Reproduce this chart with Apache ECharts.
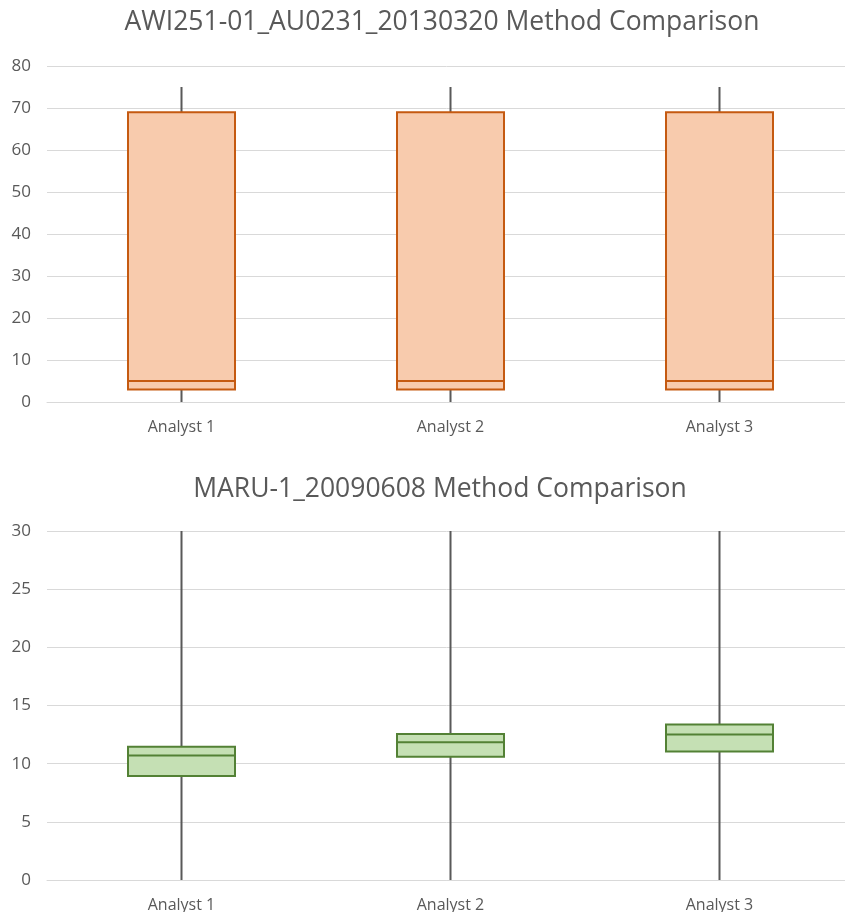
<!DOCTYPE html>
<html><head><meta charset="utf-8">
<script src="https://cdn.jsdelivr.net/npm/echarts@6/dist/echarts.min.js"></script>
<style>html,body{margin:0;padding:0;background:#fff}#c{width:845px;height:912px}</style>
</head><body><div id="c"></div>
<script>
const categories = ['Analyst 1', 'Analyst 2', 'Analyst 3'];
const title1 = 'AWI251-01_AU0231_20130320 Method Comparison';
const title2 = 'MARU-1_20090608 Method Comparison';
// [min, q1, median, q3, max]
const chart1Stats = [
  [0, 3, 5, 69, 75],
  [0, 3, 5, 69, 75],
  [0, 3, 5, 69, 75]
];
const chart2Stats = [
  [0, 8.93, 10.7, 11.45, 30],
  [0, 10.6, 11.85, 12.56, 30],
  [0, 11.05, 12.5, 13.37, 30]
];
const yTicks1 = [0, 80, 10];
const yTicks2 = [0, 30, 5];

const FONT = 'Open Sans';
const TXT = '#595959';
const GRIDC = '#D9D9D9';

function whiskerSeries(stats, idx) {
  return {
    type: 'custom', xAxisIndex: idx, yAxisIndex: idx, z: 1, silent: true,
    data: stats.map((s, i) => [i, s[0], s[4]]),
    renderItem: function (params, api) {
      const a = api.coord([api.value(0), api.value(1)]);
      const b = api.coord([api.value(0), api.value(2)]);
      return { type: 'line', shape: { x1: a[0], y1: a[1], x2: b[0], y2: b[1] },
        style: { stroke: '#595959', lineWidth: 2 } };
    }
  };
}
function boxSeries(stats, idx, fill, border) {
  return {
    type: 'boxplot', xAxisIndex: idx, yAxisIndex: idx, z: 2, silent: true,
    boxWidth: [107, 107],
    data: stats.map(s => [s[1], s[1], s[2], s[3], s[3]]),
    itemStyle: { color: fill, borderColor: border, borderWidth: 2 }
  };
}
function xAx(idx) {
  return { type: 'category', gridIndex: idx, data: categories,
    axisLine: { show: true, lineStyle: { color: GRIDC, width: 1 } },
    axisTick: { show: false },
    axisLabel: { color: TXT, fontFamily: FONT, fontSize: 16, margin: 17 } };
}
function yAx(idx, t) {
  return { type: 'value', gridIndex: idx, min: t[0], max: t[1], interval: t[2],
    axisLine: { show: false }, axisTick: { show: false },
    splitLine: { lineStyle: { color: GRIDC, width: 1 } },
    axisLabel: { color: TXT, fontFamily: FONT, fontSize: 17, margin: 16 } };
}
const chart = echarts.init(document.getElementById('c'), null, { renderer: 'canvas' });
chart.setOption({
  animation: false,
  title: [
    { text: title1, left: 437, top: 4, textAlign: 'center',
      textStyle: { color: TXT, fontFamily: FONT, fontSize: 26.5, fontWeight: 'normal' } },
    { text: title2, left: 435, top: 471, textAlign: 'center',
      textStyle: { color: TXT, fontFamily: FONT, fontSize: 26.5, fontWeight: 'normal' } }
  ],
  grid: [
    { left: 47, width: 807, top: 66, height: 336, outerBoundsMode: 'none' },
    { left: 47, width: 807, top: 531, height: 349, outerBoundsMode: 'none' }
  ],
  xAxis: [xAx(0), xAx(1)],
  yAxis: [yAx(0, yTicks1), yAx(1, yTicks2)],
  series: [
    whiskerSeries(chart1Stats, 0),
    boxSeries(chart1Stats, 0, '#F8CBAD', '#C55A11'),
    whiskerSeries(chart2Stats, 1),
    boxSeries(chart2Stats, 1, '#C5E0B4', '#538135')
  ]
});
</script></body></html>
